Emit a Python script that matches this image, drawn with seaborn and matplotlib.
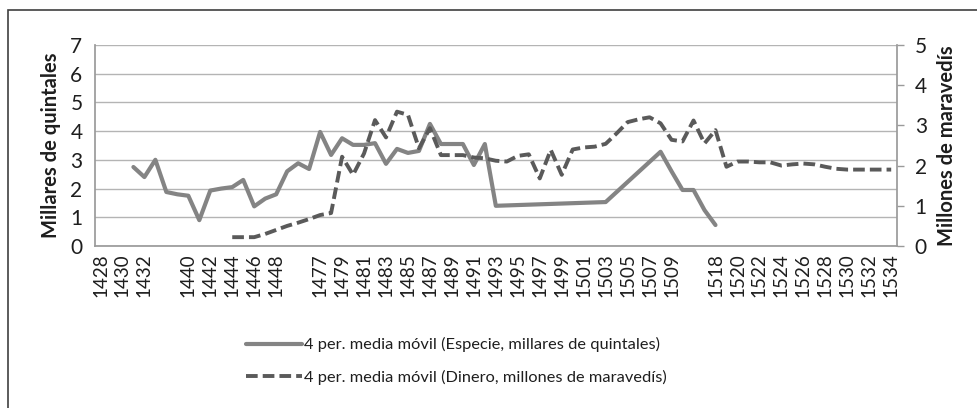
import numpy as np
import pandas as pd
import matplotlib.pyplot as plt
import matplotlib.patches as mpatches
import seaborn as sns

sns.set_theme(style='white')
plt.rcParams['font.family'] = ['Lato', 'DejaVu Sans']

# categories of the Excel category axis ('' = blank category)
years = ([str(y) for y in range(1428, 1434)] + [''] +
         [str(y) for y in range(1439, 1450)] + [''] +
         [str(y) for y in range(1476, 1511)] + [''] +
         [str(y) for y in range(1517, 1535)])

nan = np.nan
# 4 per. media movil, especie (millares de quintales), left axis
especie = [nan, nan, nan, 2.75, 2.4, 3.0, 1.88, 1.8, 1.75, 0.9,
           1.93, 2.0, 2.05, 2.3, 1.38, 1.65, 1.8, 2.6, 2.88, 2.68,
           3.97, 3.17, 3.75, 3.52, 3.52, 3.58, 2.86, 3.38, 3.24, 3.31,
           4.25, 3.55, 3.55, 3.55, 2.82, 3.55, 1.4, nan, nan, nan,
           nan, nan, nan, nan, nan, nan, 1.53, nan, nan, nan,
           nan, 3.28, 2.6, 1.95, 1.95, 1.25, 0.73, nan, nan, nan,
           nan, nan, nan, nan, nan, nan, nan, nan, nan, nan,
           nan, nan, nan]
# 4 per. media movil, dinero (millones de maravedis), right axis
dinero = [nan, nan, nan, nan, nan, nan, nan, nan, nan, nan,
          nan, nan, 0.22, 0.22, 0.22, 0.3, 0.4, 0.5, 0.58, 0.67,
          0.77, 0.82, 2.22, 1.77, 2.3, 3.13, 2.7, 3.34, 3.26, 2.43,
          2.93, 2.26, 2.26, 2.26, 2.2, 2.18, 2.12, 2.1, 2.24, 2.28,
          1.68, 2.39, 1.77, 2.4, 2.45, 2.47, 2.54, 2.8, 3.08, 3.15,
          3.2, 3.05, 2.64, 2.6, 3.12, 2.55, 2.88, 1.97, 2.1, 2.1,
          2.08, 2.08, 2.0, 2.03, 2.05, 2.03, 1.97, 1.92, 1.9, 1.9,
          1.9, 1.9, 1.9]

label_esp = '4 per. media móvil (Especie, millares de quintales)'
label_din = '4 per. media móvil (Dinero, millones de maravedís)'

df = pd.DataFrame({'pos': np.arange(len(years)), 'year': years,
                   'especie': especie, 'dinero': dinero})

text_c = '#1e1e1e'
grid_c = '#b4b4b4'
axis_c = '#9a9a9a'

fig = plt.figure(figsize=(9.77, 4.08), dpi=100)
ax = fig.add_axes([0.0972, 0.397, 0.8206, 0.493])
ax2 = ax.twinx()

d1 = df.dropna(subset=['especie'])
sns.lineplot(data=d1, x='pos', y='especie', ax=ax, color='#848484',
             linewidth=3.0, label=label_esp, legend=False)
d2 = df.dropna(subset=['dinero'])
sns.lineplot(data=d2, x='pos', y='dinero', ax=ax2, color='#5a5a5a',
             linewidth=2.8, label=label_din, legend=False)
ax2.lines[0].set_dashes((3.0, 1.3))

ax.set_xlim(-0.5, len(years) - 0.5)
ax.set_ylim(0, 7)
ax2.set_ylim(0, 5)
ax.set_yticks(range(0, 8))
ax2.set_yticks(range(0, 6))
ax.yaxis.grid(True, color=grid_c, linewidth=1.0)
ax.set_axisbelow(True)

ax.set_xticks(np.arange(0, len(years), 2))
ax.set_xticklabels(years[::2], rotation=90, fontsize=13.5, color=text_c)
ax.tick_params(axis='x', length=0, pad=5)
ax.tick_params(axis='y', length=0, labelsize=15, labelcolor=text_c, pad=9)
ax2.tick_params(axis='y', length=5, width=1, color=axis_c, direction='out',
                labelsize=15, labelcolor=text_c, pad=8)

ax.set_xlabel('')
ax.set_ylabel('Millares de quintales', fontsize=14.5, color=text_c,
              fontweight='bold', labelpad=7)
ax2.set_ylabel('Millones de maravedís', fontsize=14.5, color=text_c,
               fontweight='bold', labelpad=7)

for a in (ax, ax2):
    for s in a.spines.values():
        s.set_visible(False)
ax.spines['left'].set_visible(True)
ax.spines['left'].set_color(axis_c)
ax.spines['bottom'].set_visible(True)
ax.spines['bottom'].set_color(axis_c)
ax2.spines['right'].set_visible(True)
ax2.spines['right'].set_color(axis_c)

handles = [ax.lines[0], ax2.lines[0]]
fig.legend(handles, [label_esp, label_din], loc='center',
           bbox_to_anchor=(0.467, 0.115), ncol=1, frameon=False,
           fontsize=11.8, handlelength=3.4, handletextpad=0.15,
           labelspacing=1.05, labelcolor=text_c)

# chart area border (only top and left edges visible in the crop)
fig.add_artist(mpatches.Rectangle((8 / 977, -0.1), 1.2, 1.1 - 10 / 408,
                                  transform=fig.transFigure, fill=False,
                                  edgecolor='#404040', linewidth=1.2))

fig.savefig('out.png', dpi=100)
